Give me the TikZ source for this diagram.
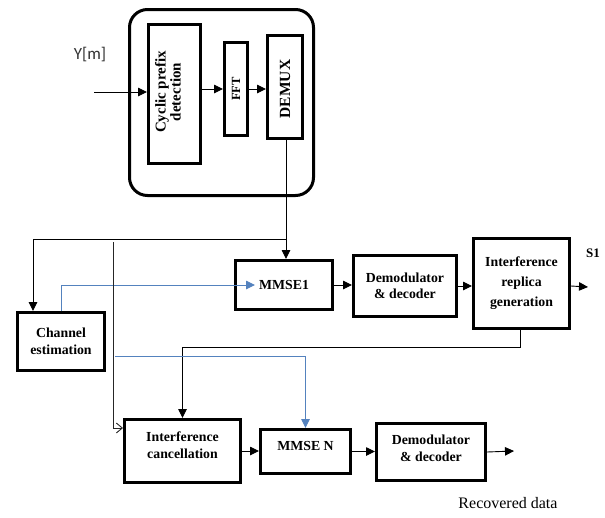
\documentclass[tikz,border=0pt]{standalone}
\usepackage{fontspec}
\setmainfont{Liberation Serif}
\newfontfamily\ysans{Carlito}
\usetikzlibrary{arrows.meta}
\definecolor{lineblue}{RGB}{84,130,190}
\tikzset{
  blk/.style={draw, line width=3pt, inner sep=2pt, align=center,
    font=\bfseries\fontsize{13.8}{16.5}\selectfont},
  conn/.style={line width=0.9pt, -{Triangle[length=9pt,width=8.5pt]}},
  bconn/.style={conn, draw=lineblue},
  plain/.style={line width=0.9pt},
  rtext/.style={rotate=90, align=center, font=\bfseries\fontsize{15}{15}\selectfont}
}
\begin{document}
\begin{tikzpicture}[x=1pt,y=-1pt]
\useasboundingbox (0,0) rectangle (605,517);
% receiver front end
\node[draw, line width=3pt, rounded corners=18pt, minimum width=184pt, minimum height=186pt] (outer) at (221.5,102.5) {};
\node[blk, minimum width=52pt, minimum height=139pt] (CP) at (174.5,94) {};
\node[rtext] (CPt) at (168,92) {Cyclic prefix\\detection};
\node[blk, minimum width=23pt, minimum height=93pt] (FFT) at (236,89) {};
\node[rtext, font=\bfseries\fontsize{12.5}{13}\selectfont] (FFTt) at (236,89) {FFT};
\node[blk, minimum width=35pt, minimum height=103pt] (DEMUX) at (285,87) {};
\node[rtext, font=\bfseries\fontsize{15.5}{16}\selectfont] (DEMUXt) at (285,89) {DEMUX};
\node[font=\ysans\fontsize{17}{18}\selectfont, text=black!80] (Y) at (90,55) {Y[m]};
\coordinate (yin) at (94,92);

% first branch
\node[blk, minimum width=97pt, minimum height=49pt] (M1) at (284,285) {MMSE1};
\node[blk, minimum width=103pt, minimum height=61pt] (D1) at (405,286) {Demodulator\\\& decoder};
\node[blk, minimum width=96pt, minimum height=90pt, font=\bfseries\fontsize{13.8}{20}\selectfont] (IRG) at (521.5,283.5) {Interference\\replica\\generation};
\node[font=\bfseries\fontsize{13}{14}\selectfont] (S1) at (593,253) {S1};
\coordinate (s1out) at (588,287);

\node[blk, minimum width=87pt, minimum height=58pt] (CE) at (61,341.5) {Channel\\estimation};

% second branch
\node[blk, minimum width=116pt, minimum height=63pt, text depth=12pt] (IC) at (182.5,451) {Interference\\cancellation};
\node[blk, minimum width=90pt, minimum height=44pt, text depth=12pt] (MN) at (305.5,451.5) {MMSE N};
\node[blk, minimum width=109pt, minimum height=57pt, text depth=8pt] (D2) at (431,452) {Demodulator\\\& decoder};
\coordinate (recout) at (514,451);
\node[font=\fontsize{16}{17}\selectfont] (rec) at (508,503) {Recovered data};

% connectors front end
\draw[conn] (yin) -- (yin -| CP.west);
\draw[conn] (CP.east |- FFT.center) -- (FFT.west);
\draw[conn] (FFT.east) -- (FFT.east -| DEMUX.west);
\draw[conn] ([xshift=1pt]DEMUX.south) -- ([xshift=1pt]DEMUX.south |- M1.north);
\coordinate (j) at (286,239);
\draw[conn] (j) -| ([xshift=17pt]CE.north west);
\draw[bconn] (CE.north) |- ([xshift=21pt]M1.west);

\draw[conn] (M1.east) -- (M1.east -| D1.west);
\draw[conn] (D1.east) -- (D1.east -| IRG.west);
\draw[conn] (IRG.east |- D1.east) -- (s1out);

\draw[conn] ([xshift=-1pt]IRG.south) -- ++(0,17) -| (IC.north);
\coordinate (v) at (113,242);
\draw[plain, draw=black!85, -{Straight Barb[length=6pt,width=10pt]}] (v) |- ([yshift=-10pt]IC.north west);
\coordinate (b) at (115,356);
\draw[bconn] (b) -| (MN.north);

\draw[conn] (IC.east) -- (IC.east -| MN.west);
\draw[conn] (MN.east) -- (MN.east -| D2.west);
\draw[conn] (D2.east) -- (recout);
\end{tikzpicture}
\end{document}
